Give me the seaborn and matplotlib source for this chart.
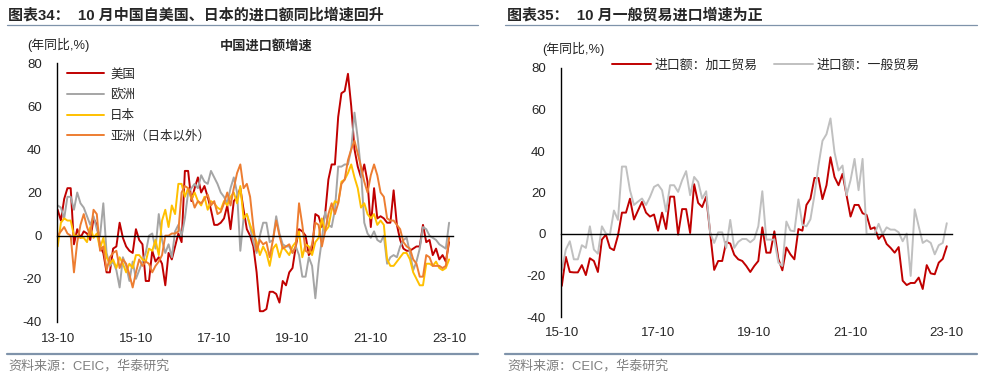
import numpy as np
import pandas as pd
import matplotlib
matplotlib.use('Agg')
import matplotlib.pyplot as plt
from matplotlib.lines import Line2D
import seaborn as sns

sns.set_style('white')
plt.rcParams['font.family'] = ['Liberation Sans', 'Noto Sans CJK SC']
plt.rcParams['axes.unicode_minus'] = False

# ---- 左图：中国进口额增速（2013-10 ~ 2023-10，年同比 %）----
months_l = pd.period_range('2013-10', '2023-10', freq='M')
us = [12, 7, 17, 22, 22, -4, 3, -1, 2, 1, -2, 8, 5, -5, -8, -17, -17, -6, -5, 6,
      -1, -5, -7, -8, 3, -2, -4, -21, -21, -7, -12, -10, -13, -23, -8, -11, -5, 1, -3, 30,
      30, 16, 22, 27, 20, 23, 18, 12, 5, 5, 6, 8, 14, 3, 16, 18, 22, 12, 3, 0,
      -5, -17, -35, -35, -34, -26, -26, -27, -31, -21, -23, -17, -15, -5, 3, 2, 0, -9, -7, 10,
      9, 4, 10, 26, 33, 33, 55, 66, 67, 75, 60, 40, 32, 27, 33, 25, 4, 22, 8, 9,
      8, 6, 6, 21, 5, -2, -6, -7, -7, -6, -5, -5, 5, -3, -2, -9, -6, -11, -9, -12, -3]
eu = [14, 13, 8, 18, 18, 12, 20, 15, 13, 9, 5, 9, 3, 0, 15, -8, -14, -12, -16, -24,
      -10, -14, -21, -12, -20, -16, -12, -8, 0, 1, -6, 10, -2, -8, -4, -10, 2, 5, 0, 8,
      20, 22, 24, 22, 28, 25, 24, 30, 27, 24, 20, 18, 15, 22, 27, 20, -7, 8, 10, 4,
      -3, -8, 0, 6, 6, -3, -2, 9, 1, -4, -5, -5, -8, -5, -9, -19, -19, -10, -14, -29,
      -13, -2, 11, 5, 4, 12, 32, 32, 33, 33, 40, 57, 45, 30, 6, 1, -1, 2, -2, -3,
      0, -13, -10, -9, -10, -5, -2, -1, -8, -16, -12, -6, 4, 3, 0, -1, -2, -4, -5, -6, 6]
jp = [-5, 6, 8, 7, 7, 0, 0, -1, -1, -3, 4, -1, 1, -6, -1, -10, -13, -11, -15, -10,
      -13, -17, -13, -15, -9, -9, -11, -12, -6, -7, -2, -9, 7, 12, 4, 14, 10, 24, 24, 18,
      22, 17, 20, 16, 14, 18, 12, 16, 15, 13, 12, 16, 14, 18, 20, 15, 23, 8, 10, 5,
      1, -3, -9, -5, -8, -14, -6, -4, -10, -5, -7, -9, -5, -3, 2, -10, -4, -5, -9, -3,
      -1, 8, 2, 4, 12, 16, 15, 25, 26, 29, 33, 27, 22, 13, 15, 10, 8, 10, 5, 7,
      5, -11, -14, -14, -12, -10, -8, -8, -11, -17, -20, -23, -23, -13, -13, -14, -12, -15, -16, -15, -11]
asia = [0, 2, 4, 1, 0, -17, -3, 5, 10, 4, 0, 12, 10, -7, -5, -16, -10, -8, -7, -15,
        -11, -13, -18, -24, -17, -11, -14, -12, -13, -17, -14, -12, -9, 0, 0, 1, 1, 2, 20, 23,
        22, 18, 13, 16, 15, 17, 19, 14, 16, 10, 11, 15, 20, 14, 22, 29, 33, 22, 24, 18,
        4, -7, -2, -4, -3, -10, -2, 7, 0, -6, -5, -4, -8, -5, 15, 5, -7, -8, -4, 6,
        5, -5, 2, 10, 15, 10, 15, 24, 26, 35, 40, 44, 38, 32, 25, 20, 28, 33, 28, 20,
        18, 8, 7, 7, 5, 3, -3, -5, -6, -11, -13, -19, -19, -9, -10, -14, -14, -14, -15, -14, -1]
names_l = ['美国', '欧洲', '日本', '亚洲（日本以外）']
colors_l = ['#C00000', '#A5A5A5', '#FFC000', '#ED7D31']
ticks_l = ['13-10', '15-10', '17-10', '19-10', '21-10', '23-10']

# ---- 右图：进口额 加工贸易 / 一般贸易（2015-10 ~ 2023-10）----
months_r = pd.period_range('2015-10', '2023-10', freq='M')
processing = [-25, -11, -18.3, -18.5, -18.5, -15, -19.8, -11.7, -13, -18.3,
              -2.7, -0.3, -6.7, -7.8, -0.8, 10.3, 10.3, 17, 7, 11.3,
              15.5, 10.3, 8.4, 9.4, 1.6, 10.3, 2.4, 18, 18, -0.3,
              12, 12, 0.5, 24, 15, 13, 18, 0.5, -17.3, -13,
              -13, -3.8, -4.6, -10, -12.2, -13, -15.4, -18.3, -15.4, -13,
              3.2, -9, -9, 1.3, -12, -17.5, -6.5, -9.8, -12.2, 2.4,
              1.6, 14, 17, 27, 27, 16.8, 23.5, 37, 27.5, 23.5,
              29, 18.7, 8.4, 14, 14, 10, 9.2, 2.4, 3.2, -2.4,
              -0.3, -4.8, -6.7, -9, -6.3, -22.5, -24.6, -23.6, -23.6, -21,
              -26.5, -15, -19, -19.4, -13.8, -12, -5.9]
general = [-17.8, -7.5, -3.5, -12.2, -12.2, -5.4, -6.7, 3.7, -7.5, -9.5,
           3.7, 0.2, -0.3, 11.3, 6.8, 32.5, 32.5, 21.1, 14, 15.6,
           17.1, 14, 17.9, 22.7, 23.8, 21.1, 10.8, 23.5, 23.5, 20.3,
           25.9, 30.3, 18.7, 27.5, 25.1, 17.1, 20.6, 0.5, -4.3, 0.8,
           0.8, -6.7, 6.8, -6.7, -3.8, -2.4, -2.4, -4, -2.4, 3.7,
           20.6, -2.7, -2.7, -2.7, -13.8, -15.4, 6, 1.7, 1.3, 16.7,
           4.4, 3.7, 7.1, 18.7, 33, 44.9, 48.1, 55.7, 39.4, 30.6,
           33, 18.7, 25.9, 36.2, 21.1, 36.2, 0, 0, 0, 4.9,
           0, 3.2, 2.1, 2.1, 0.8, -3.5, 0.2, -20.2, 11.9, 3.7,
           -4.3, -3, -4.3, -9.8, -5.4, -4.3, 5.2]
names_r = ['进口额：加工贸易', '进口额：一般贸易']
colors_r = ['#C00000', '#C0C0C0']
ticks_r = ['15-10', '17-10', '19-10', '21-10', '23-10']


def long_df(months, series, names):
    frames = []
    for vals, name in zip(series, names):
        frames.append(pd.DataFrame({'idx': np.arange(len(months)),
                                    'month': months.strftime('%y-%m'),
                                    'value': vals, 'series': name}))
    return pd.concat(frames, ignore_index=True)


df_l = long_df(months_l, [us, eu, jp, asia], names_l)
df_r = long_df(months_r, [processing, general], names_r)

W, H = 985, 379
fig = plt.figure(figsize=(W / 100, H / 100), dpi=100)


def style_axis(ax, months, tick_labels, xmax, label_pad):
    labels = list(months.strftime('%y-%m'))
    pos = [labels.index(t) for t in tick_labels]
    ax.set_ylim(-40, 80)
    ax.set_yticks(range(-40, 81, 20))
    ax.set_xlim(-0.2, xmax)
    ax.set_xticks(pos)
    ax.set_xlabel('')
    ax.set_ylabel('')
    ax.spines['top'].set_visible(False)
    ax.spines['right'].set_visible(False)
    ax.spines['bottom'].set_position(('data', 0))
    for s in ['left', 'bottom']:
        ax.spines[s].set_color('black')
        ax.spines[s].set_linewidth(1.0)
    ax.tick_params(axis='x', direction='out', length=4, width=1, color='black',
                   labelbottom=False)
    ax.tick_params(axis='y', direction='out', length=4, width=1, color='black',
                   pad=7, labelsize=9.5)
    sec = ax.secondary_xaxis('bottom')
    sec.set_xticks(pos, tick_labels)
    sec.tick_params(length=0, pad=label_pad, labelsize=9.5)
    sec.spines['bottom'].set_visible(False)


# left chart
ax1 = fig.add_axes([57 / W, 1 - 322 / H, (453 - 57) / W, (322 - 63) / H])
sns.lineplot(data=df_l, x='idx', y='value', hue='series', hue_order=names_l,
             palette=dict(zip(names_l, colors_l)), linewidth=1.4, ax=ax1)
style_axis(ax1, months_l, ticks_l, 121.2, 8)
h, l = ax1.get_legend_handles_labels()
ax1.legend(h, l, loc='upper left', bbox_to_anchor=(0.025, 0.978), frameon=False,
           fontsize=9, handlelength=3.0, handletextpad=0.45, labelspacing=0.68,
           borderpad=0, borderaxespad=0)

# right chart
ax2 = fig.add_axes([561 / W, 1 - 317 / H, (952 - 561) / W, (317 - 68) / H])
sns.lineplot(data=df_r, x='idx', y='value', hue='series', hue_order=names_r,
             palette=dict(zip(names_r, colors_r)), linewidth=1.4, ax=ax2)
style_axis(ax2, months_r, ticks_r, 97.3, 7)
h, l = ax2.get_legend_handles_labels()
ax2.legend(h, l, loc='upper left', bbox_to_anchor=(0.13, 1.035), frameon=False,
           fontsize=9.3, ncol=2, handlelength=3.0, handletextpad=0.3,
           columnspacing=1.3, borderpad=0, borderaxespad=0)

# titles, separators, source notes
fig.text(8 / W, 1 - 15 / H, '图表34：  10 月中国自美国、日本的进口额同比增速回升',
         fontsize=10.8, fontweight='bold', va='center', ha='left')
fig.text(507 / W, 1 - 15 / H, '图表35：  10 月一般贸易进口增速为正',
         fontsize=10.8, fontweight='bold', va='center', ha='left')
fig.text(27 / W, 1 - 45 / H, '(年同比,%)', fontsize=9.3, va='center', ha='left')
fig.text(542 / W, 1 - 49 / H, '(年同比,%)', fontsize=9.3, va='center', ha='left')
fig.text(266 / W, 1 - 47 / H, '中国进口额增速', fontsize=9.5, fontweight='bold',
         va='center', ha='center')
fig.text(8 / W, 1 - 366 / H, '资料来源：CEIC，华泰研究', fontsize=9.4,
         color='#7F7F7F', va='center', ha='left')
fig.text(507 / W, 1 - 366 / H, '资料来源：CEIC，华泰研究', fontsize=9.4,
         color='#7F7F7F', va='center', ha='left')

sep = '#7F93AA'
for x0, x1 in [(7, 478), (505, 977)]:
    fig.add_artist(Line2D([x0 / W, x1 / W], [1 - 25 / H] * 2,
                          transform=fig.transFigure, color=sep, lw=0.9))
    fig.add_artist(Line2D([x0 / W, x1 / W], [1 - 354 / H] * 2,
                          transform=fig.transFigure, color=sep, lw=1.6))

fig.savefig('out.png', dpi=100)
